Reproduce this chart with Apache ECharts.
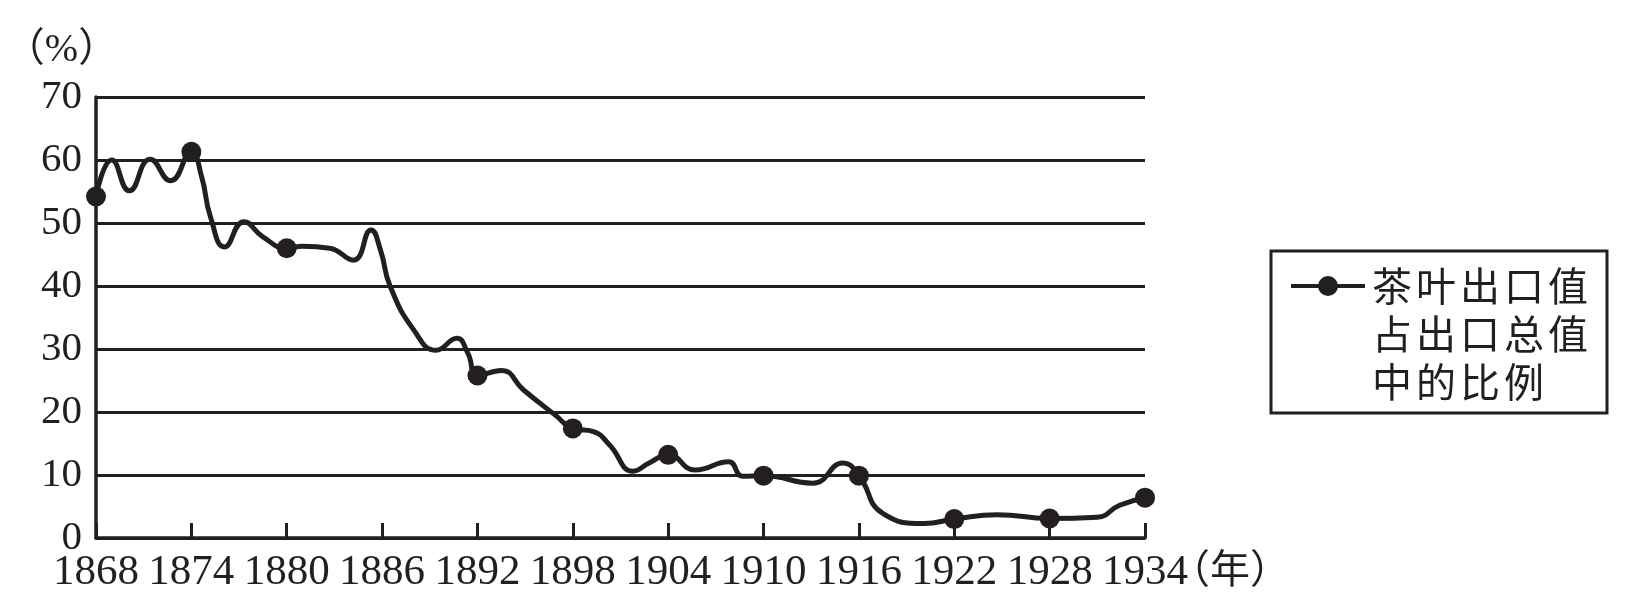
<!DOCTYPE html>
<html>
<head>
<meta charset="utf-8">
<script src="https://cdn.jsdelivr.net/npm/echarts@6/dist/echarts.min.js"></script>
<style>
html,body{margin:0;padding:0;background:#fff;}
#chart{width:1628px;height:614px;}
</style>
</head>
<body>
<div id="chart"></div>
<script>
// Points (year position, percent)
const years = [1868, 1869, 1870.1, 1871.4, 1872.7, 1874, 1874.65, 1875.2, 1876.1, 1877.3,
  1878.5, 1880, 1881, 1882.7, 1884.2, 1885.3, 1885.9, 1886.5, 1888, 1889.4,
  1890.7, 1891.4, 1892, 1893.5, 1894.9, 1896.9, 1898, 1899.3, 1900.3, 1901.8,
  1902.8, 1904, 1905.7, 1907.8, 1908.7, 1910, 1913.1, 1915, 1916, 1917.5,
  1920.1, 1922, 1924.7, 1928, 1931, 1932.4, 1934];
const values = [54.2, 60.0, 55.1, 60.1, 56.7, 61.3, 57.3, 51.0, 46.2, 50.2,
  47.8, 46.0, 46.3, 46.0, 44.1, 48.9, 45.7, 40.0, 33.0, 29.8,
  31.7, 29.3, 25.8, 26.6, 23.5, 19.5, 17.4, 16.9, 14.8, 10.6,
  11.9, 13.2, 10.8, 12.1, 9.8, 9.9, 8.7, 11.9, 9.9, 3.9,
  2.3, 3.0, 3.7, 3.1, 3.3, 5.2, 6.4];
const markedYears = [1868, 1874, 1880, 1892, 1898, 1904, 1910, 1916, 1922, 1928, 1934];
const xTickLabels = ['1868','1874','1880','1886','1892','1898','1904','1910','1916','1922','1928','1934'];
const yTickLabels = ['0','10','20','30','40','50','60','70'];
const seriesName = '茶叶出口值\n占出口总值\n中的比例';

const ink = '#231f20';
const serif = 'Liberation Serif, "Noto Sans CJK SC", serif';
const chart = echarts.init(document.getElementById('chart'), null, {renderer: 'canvas'});

const legendIcon = 'path://M0 0h0.01v0.01h-0.01z M0 22h74v4h-74z M27 24a10 10 0 1 1 20 0a10 10 0 1 1 -20 0z M73.99 143.99h0.01v0.01h-0.01z';

chart.setOption({
  animation: false,
  backgroundColor: '#ffffff',
  grid: {left: 96, right: 483, top: 97, bottom: 76, containLabel: false},
  legend: {
    left: 1271, top: 251,
    orient: 'vertical',
    selectedMode: false,
    padding: [11, 17, 7, 20],
    borderColor: ink, borderWidth: 3,
    itemWidth: 74, itemHeight: 144, itemGap: 0, itemTextGap: 14,
    textStyle: {
      fontFamily: '"Noto Sans CJK SC"', fontSize: 40, lineHeight: 48, color: ink,
      rich: {c: {fontFamily: '"Noto Sans CJK SC"', fontSize: 40, lineHeight: 48, color: ink, padding: [0, 2, 0, 2]}}
    },
    formatter: name => name.split('\n').map(line => line.split('').map(ch => '{c|' + ch + '}').join('')).join('\n'),
    itemStyle: {color: ink, borderWidth: 0},
    data: [{name: seriesName, icon: legendIcon}]
  },
  xAxis: {
    type: 'value', min: 1868, max: 1934, interval: 6,
    name: '（年）', nameLocation: 'end', nameGap: 25, nameMoveOverlap: false,
    nameTextStyle: {fontFamily: serif, fontSize: 40, color: ink, align: 'left', verticalAlign: 'top', lineHeight: 68},
    axisLine: {show: true, lineStyle: {color: ink, width: 3.5}},
    axisTick: {show: true, inside: true, length: 15, lineStyle: {color: ink, width: 3}},
    splitLine: {show: false},
    axisLabel: {
      margin: 13, fontFamily: serif, fontSize: 43, color: ink,
      formatter: v => xTickLabels[Math.round((v - 1868) / 6)]
    }
  },
  yAxis: {
    type: 'value', min: 0, max: 70, interval: 10,
    name: '（%）', nameLocation: 'end', nameGap: 27, nameMoveOverlap: false,
    nameTextStyle: {fontFamily: serif, fontSize: 40, color: ink, align: 'center', padding: [0, 69, 0, 0]},
    axisLine: {show: true, lineStyle: {color: ink, width: 3.5}},
    axisTick: {show: false},
    splitLine: {show: true, lineStyle: {color: ink, width: 3}},
    axisLabel: {
      margin: 14, fontFamily: serif, fontSize: 41, color: ink,
      formatter: v => yTickLabels[Math.round(v / 10)]
    }
  },
  series: [{
    type: 'line',
    name: seriesName,
    smooth: 0.5,
    showSymbol: true,
    showAllSymbol: true,
    symbolSize: 20,
    data: years.map((x, i) => ({
      value: [x, values[i]],
      symbol: markedYears.indexOf(x) >= 0 ? 'circle' : 'none'
    })),
    lineStyle: {color: ink, width: 5},
    itemStyle: {color: ink, borderWidth: 0},
    emphasis: {disabled: true}
  }]
});
</script>
</body>
</html>
